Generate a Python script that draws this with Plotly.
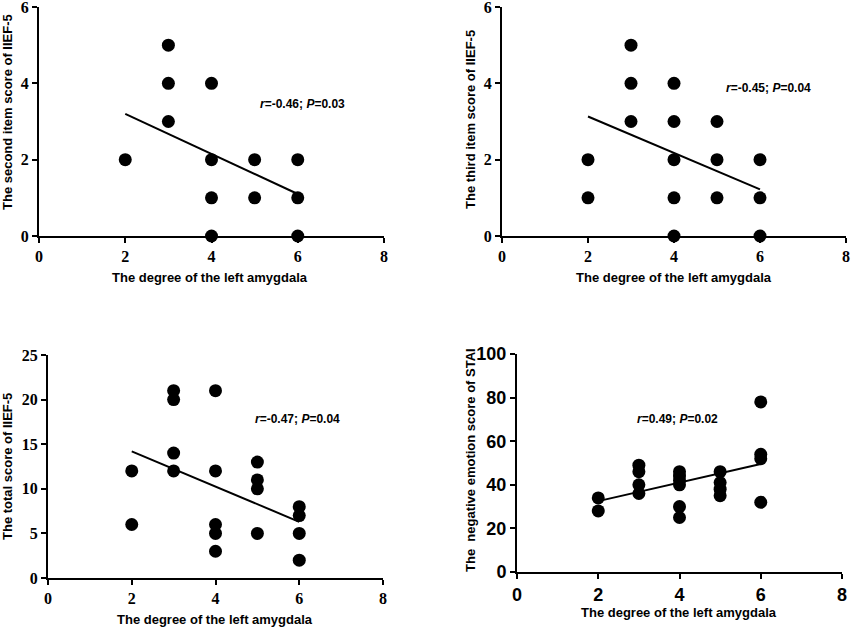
import plotly.graph_objects as go

# ========== Data ==========
# panel A: second item score of IIEF-5
a_x = [2, 3, 3, 3, 4, 4, 4, 4, 5, 5, 6, 6, 6]
a_y = [2, 5, 4, 3, 4, 2, 1, 0, 2, 1, 2, 1, 0]
a_fit_x = [2, 6]
a_fit_y = [3.2, 1.1]

# panel B: third item score of IIEF-5
b_x = [2, 2, 3, 3, 3, 4, 4, 4, 4, 4, 5, 5, 5, 6, 6, 6]
b_y = [2, 1, 5, 4, 3, 4, 3, 2, 1, 0, 3, 2, 1, 2, 1, 0]
b_fit_x = [2, 6]
b_fit_y = [3.13, 1.22]

# panel C: total score of IIEF-5
c_x = [2, 2, 3, 3, 3, 3, 4, 4, 4, 4, 4, 5, 5, 5, 5, 6, 6, 6, 6]
c_y = [12, 6, 21, 20, 14, 12, 21, 12, 6, 5, 3, 13, 11, 10, 5, 8, 7, 5, 2]
c_fit_x = [2, 6]
c_fit_y = [14.2, 6.3]

# panel D: negative emotion score of STAI
d_x = [2, 2, 3, 3, 3, 3, 4, 4, 4, 4, 4, 4, 5, 5, 5, 5, 6, 6, 6, 6]
d_y = [34, 28, 49, 46, 40, 36, 46, 44, 42, 40, 30, 25, 46, 41, 38, 35, 78, 54, 52, 32]
d_fit_x = [2, 6]
d_fit_y = [32.5, 49.5]

x_title = "The degree of the left amygdala"
y_titles = [
    "The second item score of IIEF-5",
    "The third item score of IIEF-5",
    "The total score of IIEF-5",
    "The\u00a0 negative emotion score of STAI",
]
stats_text = [
    "<i>r</i>=-0.46; <i>P</i>=0.03",
    "<i>r</i>=-0.45; <i>P</i>=0.04",
    "<i>r</i>=-0.47; <i>P</i>=0.04",
    "<i>r</i>=0.49; <i>P</i>=0.02",
]

W, H = 851, 627

# pixel boxes of each plot area: (left, right, top, bottom)
boxes = [(39, 384, 7, 236), (502, 846, 7, 236), (48, 383, 355, 578), (517, 842, 354, 572)]
y_ranges = [[0, 6], [0, 6], [0, 25], [0, 100]]
y_dticks = [2, 2, 5, 20]
stat_pos = [(6.12, 3.46), (6.19, 3.88), (5.95, 17.8), (3.94, 70.2)]
xtitle_pos = [(210, 278), (674, 278), (215, 619), (679, 612)]
ytitle_pos = [(8, 112), (470, 120), (7, 467), (470, 460)]

panels = [
    (a_x, a_y, a_fit_x, a_fit_y),
    (b_x, b_y, b_fit_x, b_fit_y),
    (c_x, c_y, c_fit_x, c_fit_y),
    (d_x, d_y, d_fit_x, d_fit_y),
]

serif_tick = dict(family="Liberation Serif, Times New Roman, serif", size=16, color="black", weight="bold")
sans_tick = dict(family="Liberation Sans, Arial, sans-serif", size=18, color="black", weight="bold")
label_font = dict(family="Liberation Sans, Arial, sans-serif", size=13, color="black", weight="bold")

fig = go.Figure()
annotations = []

for i, (px, py, fx, fy) in enumerate(panels):
    xa = "x" if i == 0 else "x%d" % (i + 1)
    ya = "y" if i == 0 else "y%d" % (i + 1)
    fig.add_trace(go.Scatter(
        x=px, y=py, mode="markers", xaxis=xa, yaxis=ya,
        marker=dict(size=13, color="black"), cliponaxis=False, showlegend=False,
    ))
    fig.add_trace(go.Scatter(
        x=fx, y=fy, mode="lines", xaxis=xa, yaxis=ya,
        line=dict(width=2, color="black"), showlegend=False,
    ))

    l, r, t, b = boxes[i]
    tick_font = sans_tick if i == 3 else serif_tick
    common = dict(
        showgrid=False, zeroline=False, showline=True, linecolor="black", linewidth=2,
        ticks="outside", ticklen=5, tickwidth=2, tickcolor="black", tickfont=tick_font,
        automargin=False, ticklabeloverflow="allow",
    )
    fig.update_layout(**{
        ("xaxis" if i == 0 else "xaxis%d" % (i + 1)): dict(
            domain=[l / W, r / W], range=[0, 8], dtick=2, tick0=0, anchor=ya, **common),
        ("yaxis" if i == 0 else "yaxis%d" % (i + 1)): dict(
            domain=[1 - b / H, 1 - t / H], range=y_ranges[i], dtick=y_dticks[i], tick0=0,
            anchor=xa, **common),
    })

    annotations.append(dict(
        x=stat_pos[i][0], y=stat_pos[i][1], xref=xa, yref=ya, text=stats_text[i],
        showarrow=False, font=dict(family="Liberation Sans, Arial, sans-serif", size=12,
                                   color="black", weight="bold"),
    ))
    annotations.append(dict(
        x=xtitle_pos[i][0] / W, y=1 - xtitle_pos[i][1] / H, xref="paper", yref="paper",
        text=x_title, showarrow=False, font=label_font, xanchor="center", yanchor="middle",
    ))
    annotations.append(dict(
        x=ytitle_pos[i][0] / W, y=1 - ytitle_pos[i][1] / H, xref="paper", yref="paper",
        text=y_titles[i], showarrow=False, font=label_font, textangle=-90,
        xanchor="center", yanchor="middle",
    ))

fig.update_layout(
    width=W, height=H,
    margin=dict(l=0, r=0, t=0, b=0, pad=0),
    paper_bgcolor="white", plot_bgcolor="white",
    annotations=annotations,
)

# drop the page's default body margin so the figure sits at the window corner
fig.write_html("out.html", config={"displayModeBar": False},
               post_script="document.body.style.margin='0';")
